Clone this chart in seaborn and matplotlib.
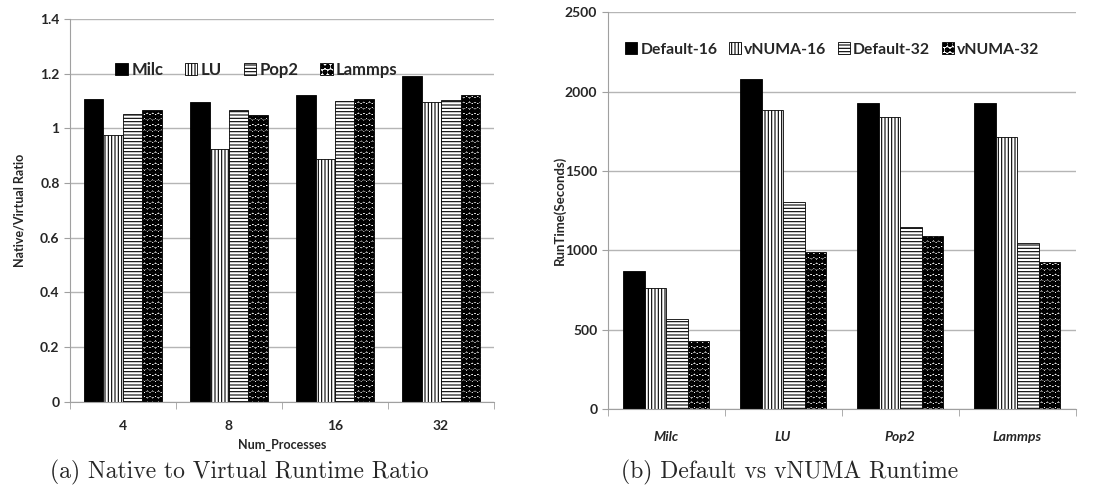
import numpy as np
import pandas as pd
import matplotlib
matplotlib.use("Agg")
import matplotlib.pyplot as plt
import matplotlib.ticker as plticker
from matplotlib.patches import Patch
import seaborn as sns

sns.set_style("white")
plt.rcParams['font.family'] = ['Lato', 'DejaVu Sans']
plt.rcParams['font.weight'] = 'bold'
plt.rcParams['hatch.linewidth'] = 0.8

# (a) native / virtual runtime ratio
procs = ['4', '8', '16', '32']
ratio_milc = [1.106, 1.097, 1.120, 1.192]
ratio_lu = [0.975, 0.925, 0.887, 1.096]
ratio_pop2 = [1.053, 1.065, 1.101, 1.104]
ratio_lammps = [1.065, 1.048, 1.108, 1.120]
codes_a = ['Milc', 'LU', 'Pop2', 'Lammps']

# (b) default vs vNUMA runtime
apps = ['Milc', 'LU', 'Pop2', 'Lammps']
default16 = [870, 2079, 1931, 1931]
vnuma16 = [763, 1883, 1839, 1715]
default32 = [569, 1305, 1146, 1045]
vnuma32 = [429, 988, 1087, 925]
configs_b = ['Default-16', 'vNUMA-16', 'Default-32', 'vNUMA-32']

df_a = pd.DataFrame({
    'procs': procs * 4,
    'code': np.repeat(codes_a, 4),
    'value': ratio_milc + ratio_lu + ratio_pop2 + ratio_lammps,
})
df_b = pd.DataFrame({
    'app': apps * 4,
    'config': np.repeat(configs_b, 4),
    'value': default16 + vnuma16 + default32 + vnuma32,
})

# black, vertical lines, horizontal lines, dots
styles = [
    dict(facecolor='black', hatch=None, hlw=0.8),
    dict(facecolor='white', hatch='|||||', hlw=0.8),
    dict(facecolor='white', hatch='-----', hlw=0.8),
    dict(facecolor='white', hatch='OOO...', hlw=1.3),
]

fig = plt.figure(figsize=(10.93, 4.95), dpi=100)
ax_a = fig.add_axes([0.064, 0.188, 0.388, 0.774])
ax_b = fig.add_axes([0.556, 0.174, 0.428, 0.801])


def apply_style(p, st):
    p.set_facecolor(st['facecolor'])
    p.set_edgecolor('black')
    p.set_linewidth(0.6)
    if st['hatch']:
        p.set_hatch(st['hatch'])
        if hasattr(p, 'set_hatch_linewidth'):
            p.set_hatch_linewidth(st['hlw'])


def style_bars(ax):
    for cont, st in zip(ax.containers, styles):
        for p in cont.patches:
            apply_style(p, st)


def style_axes(ax, ymax, step, pad):
    ax.set_xlim(-0.5, 3.5)
    ax.set_ylim(0, ymax)
    ax.yaxis.set_major_locator(plticker.MultipleLocator(step))
    ax.grid(axis='y', color='#b5b5b5', linewidth=1)
    ax.set_axisbelow(True)
    for s in ['top', 'right']:
        ax.spines[s].set_visible(False)
    for s in ['left', 'bottom']:
        ax.spines[s].set_color('#a0a0a0')
    ax.xaxis.set_minor_locator(plticker.FixedLocator(np.arange(-0.5, 4, 1)))
    ax.tick_params(axis='x', which='major', length=0, pad=pad, labelsize=10)
    ax.tick_params(axis='x', which='minor', length=5, color='#a0a0a0', bottom=True)
    ax.tick_params(axis='y', length=4, color='#a0a0a0', labelsize=10, left=True)


def make_legend(ax, labels, x, y, size, colsp):
    handles = []
    for st, lab in zip(styles, labels):
        h = Patch(label=lab)
        apply_style(h, st)
        handles.append(h)
    ax.legend(handles=handles, loc='upper center', bbox_to_anchor=(x, y), ncol=4,
              frameon=False, prop=dict(size=size, weight='bold'),
              handlelength=0.75, handleheight=0.75, handletextpad=0.2,
              columnspacing=colsp, borderaxespad=0)


sns.barplot(data=df_a, x='procs', y='value', hue='code', order=procs, hue_order=codes_a,
            width=0.735, gap=0, legend=False, ax=ax_a, errorbar=None)
style_bars(ax_a)
style_axes(ax_a, 1.4, 0.2, 13)
ax_a.yaxis.set_major_formatter(plticker.FuncFormatter(lambda v, p: f"{v:g}"))
ax_a.set_xlabel('Num_Processes', fontsize=9, fontweight='bold')
ax_a.xaxis.set_label_coords(0.5, -0.097)
ax_a.set_ylabel('Native/Virtual Ratio', fontsize=9, fontweight='bold')
ax_a.yaxis.set_label_coords(-0.105, 0.5)
make_legend(ax_a, codes_a, 0.44, 0.905, 12, 1.3)

sns.barplot(data=df_b, x='app', y='value', hue='config', order=apps, hue_order=configs_b,
            width=0.735, gap=0, legend=False, ax=ax_b, errorbar=None)
style_bars(ax_b)
style_axes(ax_b, 2500, 500, 16)
for lab in ax_b.get_xticklabels():
    lab.set_fontstyle('italic')
ax_b.set_xlabel('')
ax_b.set_ylabel('RunTime(Seconds)', fontsize=9.5, fontweight='bold')
ax_b.yaxis.set_label_coords(-0.09, 0.5)
make_legend(ax_b, configs_b, 0.48, 0.94, 11.3, 0.75)

fig.text(0.0457, 0.045, '(a) Native to Virtual Runtime Ratio', family='cmr10',
         fontsize=17, fontweight='normal', ha='left', va='center')
fig.text(0.568, 0.045, '(b) Default vs vNUMA Runtime', family='cmr10',
         fontsize=17, fontweight='normal', ha='left', va='center')

fig.savefig('out.png', dpi=100)
